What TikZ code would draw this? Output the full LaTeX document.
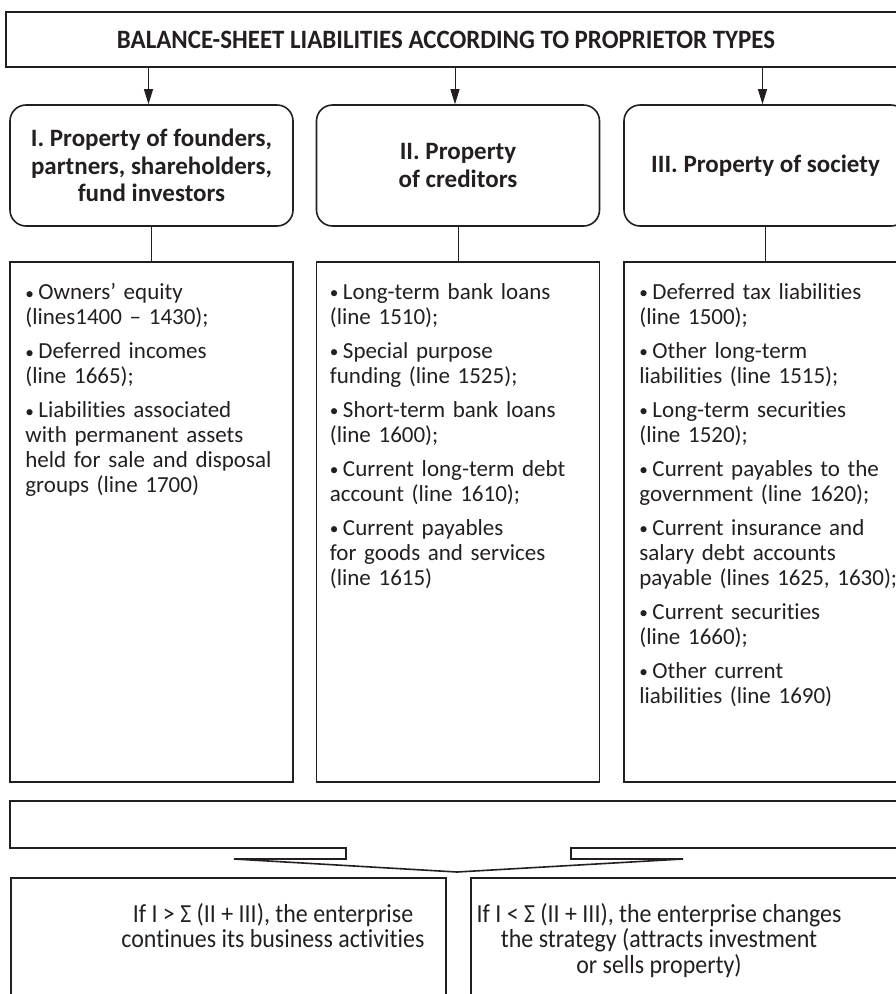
\documentclass[tikz,border=0pt]{standalone}
\usepackage{fontspec}
\setmainfont[Ligatures=NoCommon]{Carlito}
\newfontfamily\condfont[FakeStretch=0.92,Ligatures=NoCommon]{Carlito}
\newfontfamily\titlefont[FakeStretch=0.94,Ligatures=NoCommon]{Carlito}
\usetikzlibrary{arrows.meta}
\definecolor{ink}{HTML}{231F20}
\newcommand\bul{\raisebox{0.6pt}{\scalebox{0.75}{•}}\hspace{4.5pt}}
\begin{document}
\begin{tikzpicture}[x=1pt,y=-1pt,
  every node/.style={text=ink},
  boxline/.style={draw=ink,line width=1.6pt},
  headbox/.style={boxline,rounded corners=16pt,minimum width=283pt,minimum height=121pt,
     inner sep=0pt,align=center,font=\fontsize{25}{27.5}\selectfont\bfseries},
  listbox/.style={boxline,minimum width=283pt,minimum height=520pt,inner sep=0pt},
  listtext/.style={anchor=north west,inner sep=0pt,text width=270pt,align=left,
     font=\fontsize{23}{25}\selectfont},
  link/.style={draw=ink,line width=0.9pt},
  arrowlink/.style={link,-{Triangle[width=9pt,length=15pt]}},
  resultbox/.style={boxline,anchor=north west,inner sep=0pt},
  resulttext/.style={anchor=north,inner sep=0pt,align=center,
     font=\condfont\fontsize{26}{25.5}\selectfont}
]
\useasboundingbox (0,0) rectangle (896,994);
\clip (0,0) rectangle (896,994);

% title
\node[boxline,minimum width=894pt,minimum height=55pt,inner sep=0pt] (title) at (453,39.5) {};
\node[inner sep=0pt,font=\titlefont\fontsize{26.5}{28}\selectfont\bfseries] (titletext) at (446,40)
  {BALANCE-SHEET LIABILITIES ACCORDING TO PROPRIETOR TYPES};

% heading boxes
\node[headbox] (h1) at (151.5,165.5) {I. Property of founders,\\partners, shareholders,\\fund investors};
\node[headbox] (h2) at (458,165.5) {II. Property\\of creditors};
\node[headbox] (h3) at (765.5,165.5) {III. Property of society};

\foreach \h in {h1,h2,h3}
  \draw[arrowlink] ([xshift=-3pt]title.south -| \h.north) -- ([xshift=-3pt]\h.north);

% list boxes
\node[listbox] (l1) at (151.5,522) {};
\node[listbox] (l2) at (458,522) {};
\node[listbox] (l3) at (765.5,522) {};

\foreach \i in {1,2,3}
  \draw[link] (h\i.south) -- (l\i.north);

\node[listtext] (t1) at ([shift={(16,22)}]l1.north west) {%
\bul Owners’ equity\\(lines1400 – 1430);\\[9pt]
\bul Deferred incomes\\(line 1665);\\[9pt]
\bul Liabilities associated\\with permanent assets\\held for sale and disposal\\groups (line 1700)};

\node[listtext] (t2) at ([shift={(14,22)}]l2.north west) {%
\bul Long-term bank loans\\(line 1510);\\[9pt]
\bul Special purpose\\funding (line 1525);\\[9pt]
\bul Short-term bank loans\\(line 1600);\\[9pt]
\bul Current long-term debt\\account (line 1610);\\[9pt]
\bul Current payables\\for goods and services\\(line 1615)};

\node[listtext] (t3) at ([shift={(16,22)}]l3.north west) {%
\bul Deferred tax liabilities\\(line 1500);\\[9pt]
\bul Other long-term\\liabilities (line 1515);\\[9pt]
\bul Long-term securities\\(line 1520);\\[9pt]
\bul Current payables to the\\government (line 1620);\\[9pt]
\bul Current insurance and\\salary debt accounts\\payable (lines 1625, 1630);\\[9pt]
\bul Current securities\\(line 1660);\\[9pt]
\bul Other current\\liabilities (line 1690)};

% wide callout box
\coordinate (wtl) at (10,801);
\coordinate (wtr) at (912,801);
\coordinate (tip) at (457,872);
\draw[boxline,line join=miter] (wtl) -- (wtr) -- (912,848) -- (571,848) -- (571,859)
   -- (683,859) -- (tip) -- (234,859) -- (346,859) -- (346,848) -- (10,848) -- cycle;

% result boxes
\node[resultbox,minimum width=435pt,minimum height=160pt] (r1) at (10,877) {};
\node[resultbox,minimum width=440pt,minimum height=160pt] (r2) at (470,877) {};

\node[resulttext] (rt1) at (273,903) {If I > Σ (II + III), the enterprise\\continues its business activities};
\node[resulttext] (rt2) at (659,903) {If I < Σ (II + III), the enterprise changes\\the strategy (attracts investment\\or sells property)};
\end{tikzpicture}
\end{document}
